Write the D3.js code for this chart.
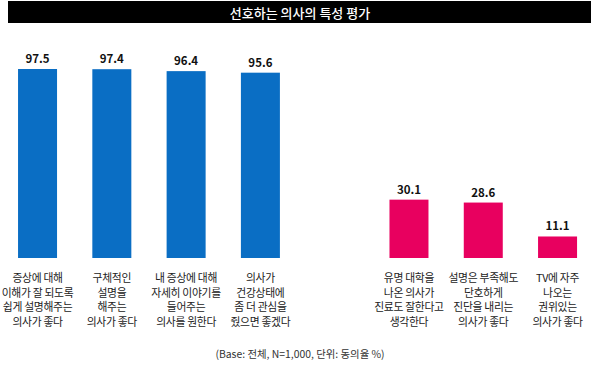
<!DOCTYPE html>
<html><head><meta charset="utf-8">
<script src="https://cdn.jsdelivr.net/npm/d3@7"></script>
<style>body{margin:0;background:#fff}svg{display:block}</style>
</head><body><div id="chart"></div>
<script>
const title = "선호하는 의사의 특성 평가";
const categories = ["c1","c2","c3","c4","gap","c5","c6","c7"];
const labels = [
  ["증상에 대해","이해가 잘 되도록","쉽게 설명해주는","의사가 좋다"],
  ["구체적인","설명을","해주는","의사가 좋다"],
  ["내 증상에 대해","자세히 이야기를","들어주는","의사를 원한다"],
  ["의사가","건강상태에","좀 더 관심을","줬으면 좋겠다"],
  [],
  ["유명 대학을","나온 의사가","진료도 잘한다고","생각한다"],
  ["설명은 부족해도","단호하게","진단을 내리는","의사가 좋다"],
  ["TV에 자주","나오는","권위있는","의사가 좋다"]
];
const values = [97.5, 97.4, 96.4, 95.6, null, 30.1, 28.6, 11.1];
const groups = ["blue","blue","blue","blue",null,"red","red","red"];
const footnote = "(Base: 전체, N=1,000, 단위: 동의율 %)";

const W = 600, H = 367;
const colors = {blue:"#0a6ec4", red:"#e8005f"};
const font = "'Noto Sans CJK KR','Noto Sans',sans-serif";

const svg = d3.select("#chart").append("svg").attr("width",W).attr("height",H);

svg.append("rect").attr("x",8).attr("y",1).attr("width",583).attr("height",22).attr("fill","#000");
svg.append("text").attr("x",300).attr("y",12).attr("text-anchor","middle").attr("dominant-baseline","central")
  .attr("fill","#fff").attr("font-family",font).attr("font-size",13).attr("font-weight",500).text(title);

const baseY = 258;
const x = d3.scaleBand().domain(categories).range([0.4, 594.7]).paddingInner(0.475).paddingOuter(0.2375);
const y = d3.scaleLinear().domain([0, 97.5]).range([baseY, 69]);

const data = categories.map((c,i)=>({c, v:values[i], g:groups[i], lab:labels[i]}));
const bars = data.filter(d=>d.v!=null);

svg.selectAll("rect.bar").data(bars).enter().append("rect").attr("class","bar")
  .attr("x",d=>x(d.c)).attr("width",x.bandwidth())
  .attr("y",d=>y(d.v)).attr("height",d=>y(0)-y(d.v)).attr("fill",d=>colors[d.g]);

svg.selectAll("text.val").data(bars).enter().append("text").attr("class","val")
  .attr("x",d=>x(d.c)+x.bandwidth()/2).attr("y",d=>y(d.v)-6).attr("text-anchor","middle")
  .attr("font-family",font).attr("font-size",11.5).attr("font-weight",700).attr("fill","#111")
  .text(d=>d.v.toFixed(1));

data.forEach(d=>{
  const t = svg.append("text").attr("text-anchor","middle").attr("font-family",font)
    .attr("font-size",10.8).attr("letter-spacing",-0.3).attr("fill","#222");
  d.lab.forEach((line,j)=>{
    t.append("tspan").attr("x",x(d.c)+x.bandwidth()/2).attr("y",282+j*14.7).text(line);
  });
});

svg.append("text").attr("x",300).attr("y",358).attr("text-anchor","middle").attr("font-family",font)
  .attr("font-size",10.4).attr("fill","#333").text(footnote);
</script></body></html>
